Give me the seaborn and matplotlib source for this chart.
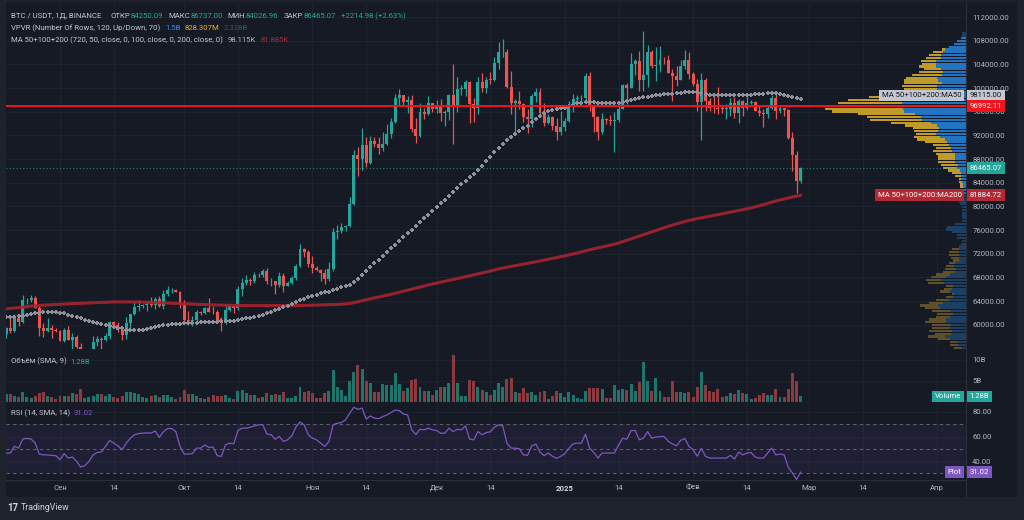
import numpy as np
import pandas as pd
import matplotlib
matplotlib.use("Agg")
import matplotlib.pyplot as plt
import seaborn as sns
from matplotlib.patches import Rectangle
from matplotlib.lines import Line2D

# ---------------- data (daily BTC/USDT, 19 Aug 2024 .. 27 Feb 2025) ----------------
first_open = 58430.0

close_aug = [59450, 59010, 61160, 60380, 64100, 64180, 64570, 62880, 59500, 59020, 59380, 59120, 58970]
high_aug = [59620, 61400, 61800, 61400, 64950, 64500, 65000, 64850, 63200, 60240, 61180, 59940, 59440]
low_aug = [57800, 58580, 58780, 59750, 60350, 63570, 63800, 62800, 58030, 57860, 58790, 57700, 58740]

close_sep = [57300, 59130, 57480, 57970, 56160, 53950, 54150, 54840, 57050, 57640,
             57340, 58130, 60500, 60000, 59130, 58210, 60310, 61760, 62950, 63190,
             63350, 63580, 63330, 64300, 63140, 65180, 65790, 65880, 65600, 63330]
high_sep = [59070, 59400, 59810, 58520, 58300, 56990, 54850, 55300, 58100, 58040,
            57990, 58600, 60650, 60660, 60400, 59200, 61380, 61790, 63850, 64130,
            63560, 64000, 64750, 64690, 64800, 65840, 66500, 66260, 66080, 65620]
low_sep = [57200, 57120, 57420, 55600, 55650, 52550, 53750, 53650, 54600, 56400,
           55550, 57320, 57650, 59500, 58700, 57500, 57630, 59170, 61560, 62350,
           62760, 62400, 62950, 62700, 62950, 62670, 64800, 65420, 65500, 62850]

close_oct = [60800, 60650, 60750, 62080, 62060, 62820, 62220, 62130, 60580, 60280,
             62450, 63200, 62850, 66050, 67040, 67610, 67400, 68420, 68360, 69000,
             67370, 67380, 66650, 68160, 66600, 67010, 67930, 69900, 72720, 72340, 70290]
high_oct = [64130, 62390, 61470, 62480, 62370, 62970, 64480, 63200, 62540, 61320,
            63420, 63480, 63280, 66500, 67950, 68420, 67940, 68980, 68690, 69400,
            69500, 67840, 67470, 68850, 68770, 67450, 68300, 70270, 73620, 72960, 72700]
low_oct = [60160, 60000, 59830, 60460, 61640, 61800, 62130, 61820, 60300, 58900,
           60080, 62400, 62050, 62440, 64800, 66750, 66650, 67130, 68000, 68100,
           66830, 66570, 65260, 66450, 65520, 66500, 66800, 67620, 69730, 71440, 69690]

close_nov = [69500, 69300, 68740, 67800, 69350, 75600, 75900, 76500, 76670, 80370,
             88700, 87950, 90400, 87250, 91060, 90580, 89850, 90460, 92310, 94290,
             98350, 98890, 97670, 97900, 93000, 91950, 95900, 95640, 97460, 96400]
high_nov = [71630, 70000, 69390, 69480, 70580, 76400, 76850, 77200, 76920, 81500,
            89530, 89950, 93270, 91790, 91850, 91800, 91760, 92590, 94000, 94900,
            99000, 99800, 98900, 98700, 98870, 94980, 97400, 96650, 98690, 97500]
low_nov = [68820, 69020, 67460, 66840, 67450, 69070, 74420, 75570, 75770, 76490,
           80220, 85070, 86120, 86670, 87120, 90090, 88800, 89380, 90380, 91500,
           94100, 97200, 97150, 95750, 92600, 90790, 91800, 94700, 95400, 95900]

close_dec = [97180, 95840, 96000, 98760, 97000, 99850, 99900, 101100, 97300, 96600,
             101100, 100000, 101400, 101370, 104300, 106050, 106130, 100200, 97460, 97750,
             97220, 95100, 94700, 98650, 99400, 95800, 94160, 95160, 93530, 92640, 93430]
high_dec = [97900, 98150, 96300, 99000, 104000, 101900, 100550, 101400, 101250, 98250,
            101900, 102550, 101900, 102650, 105250, 107780, 108350, 106520, 102800, 98100,
            99540, 97400, 96420, 99000, 99950, 99960, 97500, 95530, 95200, 94900, 96150]
low_dec = [95700, 94500, 93580, 94660, 90500, 95900, 98900, 98700, 94150, 94250,
           95650, 99300, 99200, 100600, 101200, 103300, 105320, 100000, 95650, 92150,
           96400, 94200, 92400, 93400, 97600, 95150, 93500, 94000, 92880, 91300, 92000]

close_jan = [94400, 96880, 98100, 98240, 98300, 102100, 96950, 95050, 92500, 94700,
             94550, 94500, 94520, 96530, 100500, 99990, 104080, 104550, 101330, 102260,
             106150, 103650, 103960, 104820, 104710, 102620, 102080, 101330, 103730, 104730, 102430]
high_jan = [94950, 97800, 98980, 98800, 98800, 102500, 102700, 97250, 95350, 95850,
            94980, 95400, 95900, 97350, 100700, 100850, 105870, 104990, 106300, 109590,
            107240, 106400, 106850, 107100, 105290, 105500, 103200, 103800, 104800, 106450, 106100]
low_jan = [92800, 94200, 96030, 97300, 97300, 97920, 96100, 92500, 91200, 92200,
           93850, 93700, 89250, 94300, 96500, 97350, 99950, 102280, 99500, 99550,
           100100, 103350, 101250, 102750, 104100, 102500, 97800, 100300, 101300, 103300, 101550]

close_feb = [100640, 97690, 101400, 97870, 96620, 96550, 96530, 96480, 96500, 97440,
             95780, 97870, 96620, 97510, 97570, 96120, 95770, 95540, 96630, 98330,
             96130, 96580, 96270, 91550, 88640, 84250.09, 86465.07]
high_feb = [102780, 101450, 102500, 101750, 98300, 99200, 100150, 96880, 97350, 98350,
            98500, 98120, 98000, 98800, 97970, 97730, 97050, 96400, 96900, 98770,
            99500, 96950, 96650, 96500, 92500, 89300, 86737.00]
low_feb = [100300, 96150, 91230, 96150, 96150, 95700, 95650, 95700, 94750, 95250,
           94880, 94100, 95300, 96300, 97250, 96050, 95200, 93400, 95000, 96400,
           94850, 95800, 95250, 91350, 86050, 82250, 84026.96]

# volume, billions
volume_b = [
    1.8, 1.8, 1.3, 1.2, 2.4, 1.0, 0.8, 1.4, 2.1, 2.2,
    1.4, 1.0, 0.6, 1.3, 1.4, 1.4, 2.1, 1.8, 2.9, 0.9,
    1.0, 1.4, 1.8, 1.8, 1.4, 1.8, 1.0, 0.8, 1.3, 2.2,
    2.2, 2.1, 1.9, 1.1, 0.8, 1.4, 1.5, 1.1, 1.6, 1.6,
    1.2, 0.7, 1.2, 2.8, 1.8, 1.8, 1.4, 0.8, 0.6, 1.0,
    1.6, 1.4, 1.4, 1.6, 0.8, 0.6, 2.5, 2.8, 2.1, 1.6,
    1.5, 0.8, 1.0, 2.0, 1.7, 1.8, 1.5, 2.2, 0.9, 0.8,
    1.4, 3.4, 2.4, 2.6, 2.1, 0.8, 0.9, 2.1, 2.5, 7.6,
    3.4, 2.7, 1.3, 4.8, 7.0, 8.6, 7.8, 5.0, 4.4, 2.2,
    2.2, 4.2, 4.0, 4.0, 6.7, 4.2, 2.6, 3.2, 5.2, 5.4,
    3.6, 2.6, 2.6, 1.7, 2.8, 3.6, 3.4, 4.4, 11.0, 4.4,
    1.4, 1.4, 5.2, 4.9, 3.6, 2.8, 2.2, 1.7, 2.8, 4.4,
    3.4, 5.4, 5.6, 2.2, 2.0, 3.2, 2.1, 2.4, 1.6, 2.2,
    2.6, 0.6, 1.4, 2.6, 2.0, 1.2, 2.2, 1.6, 0.8, 0.6,
    2.5, 3.2, 3.2, 3.2, 3.0, 0.8, 0.9, 4.0, 2.8, 3.0,
    2.8, 4.2, 2.6, 4.6, 9.4, 4.8, 2.5, 5.6, 2.5, 1.0,
    1.0, 5.0, 2.4, 2.2, 2.0, 2.2, 1.2, 3.4, 7.1, 4.0,
    2.6, 2.4, 3.0, 1.0, 1.4, 2.0, 1.8, 2.8, 2.0, 1.8,
    0.6, 0.8, 1.6, 2.1, 1.7, 1.7, 3.0, 1.2, 1.0, 3.0,
    6.9, 5.0, 1.28,
]

rsi = [
    46.5, 46.5, 52.0, 50.5, 58.0, 58.4, 58.0, 54.6, 45.7, 45.0,
    45.0, 44.6, 44.3, 41.0, 46.0, 42.4, 43.2, 39.7, 35.1, 36.2,
    39.7, 45.0, 47.0, 47.3, 52.0, 56.8, 54.6, 52.4, 49.2, 54.6,
    58.6, 61.4, 62.4, 62.7, 63.0, 62.7, 64.6, 59.2, 64.0, 66.5,
    66.5, 64.0, 51.9, 45.7, 45.7, 46.0, 50.5, 50.5, 53.2, 51.0,
    51.4, 44.3, 43.8, 53.2, 54.6, 54.0, 64.9, 66.8, 66.8, 67.6,
    68.6, 69.5, 69.7, 61.9, 61.6, 57.8, 60.0, 56.0, 57.3, 60.5,
    67.6, 71.9, 69.5, 61.4, 58.6, 57.3, 54.6, 51.9, 56.0, 69.7,
    70.8, 71.4, 73.5, 78.9, 83.8, 82.2, 83.2, 74.3, 76.8, 74.9,
    74.6, 76.2, 77.6, 79.5, 81.6, 81.1, 78.4, 77.6, 65.4, 61.6,
    65.9, 65.4, 66.8, 65.4, 64.9, 62.7, 62.7, 66.8, 64.0, 65.9,
    65.4, 68.6, 57.8, 57.3, 64.0, 61.4, 63.2, 63.8, 67.6, 69.5,
    68.6, 54.6, 50.5, 50.5, 50.0, 45.0, 44.6, 52.4, 53.8, 47.3,
    44.3, 46.5, 43.8, 42.2, 43.8, 46.0, 50.5, 54.0, 54.6, 54.6,
    61.9, 50.5, 47.0, 42.4, 46.5, 46.5, 46.5, 46.5, 53.2, 58.6,
    57.8, 64.9, 64.9, 57.3, 58.6, 64.0, 58.6, 59.5, 60.0, 60.0,
    56.0, 54.0, 52.4, 56.8, 58.4, 51.9, 49.2, 43.8, 50.3, 43.8,
    42.4, 42.4, 42.4, 42.4, 42.4, 44.6, 41.6, 47.3, 45.0, 46.5,
    47.0, 43.2, 42.4, 42.4, 46.5, 50.5, 45.0, 45.7, 45.0, 34.9,
    30.3, 24.9, 31.02,
]

# moving averages, thousands
ma50_k = [
    61.33, 61.33, 61.35, 61.4, 61.5, 61.6, 61.75, 61.9, 62.0, 62.1,
    62.12, 62.12, 62.1, 62.05, 61.9, 61.7, 61.5, 61.3, 61.05, 60.8,
    60.6, 60.45, 60.3, 60.15, 59.97, 59.85, 59.65, 59.5, 59.4, 59.1,
    59.05, 59.05, 59.06, 59.15, 59.28, 59.45, 59.6, 59.74, 59.9, 60.0,
    60.1, 60.15, 60.2, 60.22, 60.25, 60.3, 60.34, 60.38, 60.42, 60.46,
    60.5, 60.52, 60.56, 60.6, 60.64, 60.7, 60.75, 60.9, 61.05, 61.2,
    61.35, 61.45, 61.7, 61.95, 62.2, 62.45, 62.7, 62.95, 63.2, 63.5,
    63.8, 64.1, 64.4, 64.65, 64.9, 65.1, 65.3, 65.45, 65.6, 65.85,
    66.1, 66.35, 66.55, 66.75, 67.2, 67.8, 68.45, 69.1, 69.7, 70.35,
    71.0, 71.6, 72.25, 72.9, 73.5, 74.15, 74.8, 75.45, 76.05, 76.7,
    77.35, 78.0, 78.6, 79.2, 79.85, 80.5, 81.15, 81.8, 82.4, 83.1,
    83.7, 84.25, 84.9, 85.5, 86.15, 86.8, 87.6, 88.4, 89.2, 89.9,
    90.6, 91.2, 91.75, 92.3, 92.8, 93.2, 93.65, 94.2, 94.8, 95.3,
    95.75, 96.1, 96.3, 96.45, 96.55, 96.7, 96.95, 97.2, 97.4, 97.45,
    97.6, 97.7, 97.65, 97.55, 97.5, 97.45, 97.42, 97.42, 97.45, 97.6,
    97.8, 98.0, 98.2, 98.35, 98.5, 98.56, 98.65, 98.75, 98.85, 98.95,
    99.0, 99.05, 99.1, 99.17, 99.25, 99.3, 99.34, 99.25, 99.1, 98.95,
    98.85, 98.8, 98.78, 98.78, 98.78, 98.78, 98.8, 98.8, 98.82, 98.85,
    98.9, 98.95, 99.0, 99.05, 99.1, 99.12, 99.1, 99.0, 98.85, 98.65,
    98.45, 98.25, 98.115,
]
ma200_k = [
    62.68, 62.75, 62.82, 62.9, 62.97, 63.05, 63.15, 63.2, 63.25, 63.3,
    63.35, 63.38, 63.42, 63.46, 63.5, 63.53, 63.56, 63.59, 63.62, 63.65,
    63.68, 63.71, 63.74, 63.77, 63.8, 63.83, 63.85, 63.86, 63.86, 63.86,
    63.86, 63.85, 63.84, 63.82, 63.8, 63.78, 63.75, 63.72, 63.69, 63.66,
    63.63, 63.6, 63.58, 63.55, 63.52, 63.49, 63.46, 63.43, 63.41, 63.38,
    63.35, 63.33, 63.31, 63.29, 63.27, 63.26, 63.25, 63.24, 63.24, 63.23,
    63.23, 63.23, 63.22, 63.22, 63.22, 63.22, 63.22, 63.22, 63.22, 63.23,
    63.24, 63.25, 63.26, 63.28, 63.3, 63.32, 63.34, 63.35, 63.37, 63.4,
    63.43, 63.47, 63.52, 63.6, 63.72, 63.88, 64.06, 64.22, 64.38, 64.53,
    64.68, 64.83, 64.98, 65.14, 65.3, 65.48, 65.66, 65.83, 66.0, 66.18,
    66.36, 66.54, 66.72, 66.88, 67.04, 67.19, 67.34, 67.49, 67.64, 67.8,
    67.96, 68.12, 68.28, 68.43, 68.58, 68.74, 68.9, 69.08, 69.26, 69.43,
    69.58, 69.71, 69.84, 69.97, 70.1, 70.23, 70.36, 70.5, 70.64, 70.78,
    70.92, 71.06, 71.2, 71.34, 71.5, 71.65, 71.8, 71.96, 72.12, 72.3,
    72.48, 72.66, 72.82, 72.98, 73.14, 73.3, 73.45, 73.62, 73.82, 74.04,
    74.27, 74.5, 74.74, 74.98, 75.22, 75.45, 75.68, 75.92, 76.16, 76.4,
    76.62, 76.84, 77.04, 77.24, 77.44, 77.62, 77.78, 77.93, 78.07, 78.2,
    78.33, 78.46, 78.6, 78.74, 78.88, 79.02, 79.16, 79.3, 79.44, 79.58,
    79.74, 79.92, 80.1, 80.3, 80.5, 80.7, 80.9, 81.08, 81.25, 81.42,
    81.58, 81.73, 81.885,
]

tick_pos = [13, 26, 43, 56, 74, 87, 104, 117, 135, 148, 166, 179, 194, 207, 225]
tick_lab = ["Сен", "14", "Окт", "14", "Ноя", "14", "Дек", "14", "2025", "14",
            "Фев", "14", "Мар", "14", "Апр"]

price_line = 96992.11

closes = close_aug + close_sep + close_oct + close_nov + close_dec + close_jan + close_feb
highs = high_aug + high_sep + high_oct + high_nov + high_dec + high_jan + high_feb
lows = low_aug + low_sep + low_oct + low_nov + low_dec + low_jan + low_feb
opens = [first_open] + closes[:-1]   # 24/7 market: open = previous close

df = pd.DataFrame({
    "open": opens, "high": highs, "low": lows, "close": closes,
    "vol": volume_b, "rsi": rsi,
    "ma50": np.array(ma50_k) * 1000, "ma200": np.array(ma200_k) * 1000,
})
df["idx"] = np.arange(len(df))
df["up"] = df["close"] >= df["open"]

# ---------------- style ----------------
BG = "#161a25"
FRAME = "#1e222d"
GRID = "#1f2331"
SEP = "#2a2e39"
TXT = "#b2b5be"
LBL = "#c3c6ce"
UP = "#26a69a"
DN = "#ef5350"
PURPLE = "#7e57c2"

sns.set_theme(style="dark", rc={"axes.facecolor": BG, "figure.facecolor": FRAME})
plt.rcParams["font.family"] = ["Roboto", "DejaVu Sans"]
FS = 5.6

W, H = 1024, 520
def fy(px):
    return 1 - px / H

fig = plt.figure(figsize=(W / 100, H / 100), dpi=100)
fig.patches.append(Rectangle((6 / W, fy(497)), 1011 / W, (497 - 2) / H,
                             transform=fig.transFigure, fc=BG, ec="none", zorder=-10))

L, AW = 6 / W, 960 / W
ax_p = fig.add_axes([L, fy(349), AW, fy(3) - fy(349)])
ax_v = fig.add_axes([L, fy(401.7), AW, fy(349) - fy(401.7)])
ax_r = fig.add_axes([L, fy(480), AW, fy(401.7) - fy(480)])

XMIN, XMAX = -0.05, 231.95
for ax in (ax_p, ax_v, ax_r):
    ax.set_facecolor(BG)
    ax.set_xlim(XMIN, XMAX)
    ax.set_xticks(tick_pos)
    ax.grid(True, color=GRID, lw=0.7)
    ax.set_axisbelow(True)
    for s in ax.spines.values():
        s.set_color(SEP)
        s.set_linewidth(0.8)
    ax.spines["left"].set_visible(False)
    ax.spines["top"].set_visible(False)
    ax.yaxis.tick_right()
    ax.tick_params(axis="both", length=0, colors=TXT, labelsize=FS, pad=4.5)
    ax.tick_params(axis="x", labelbottom=False)

# ---------------- price pane ----------------
ax_p.set_ylim(55895, 114370)
yt = list(range(60000, 112001, 4000))
ax_p.set_yticks(yt)
ax_p.set_yticklabels([f"{v:.2f}" for v in yt])

# volume profile (visible range, 120 rows, 70% value area)
edges = np.linspace(df["low"].min(), df["high"].max(), 121)
rowh = edges[1] - edges[0]
vp_up = np.zeros(120)
vp_dn = np.zeros(120)
for _, r in df.iterrows():
    ov = np.clip(np.minimum(r["high"], edges[1:]) - np.maximum(r["low"], edges[:-1]), 0, None)
    share = ov / ov.sum() * r["vol"]
    if r["up"]:
        vp_up += share
    else:
        vp_dn += share
vp_tot = vp_up + vp_dn
poc = int(np.argmax(vp_tot))
lo_i = hi_i = poc
acc = vp_tot[poc]
while acc < 0.7 * vp_tot.sum():
    below = vp_tot[lo_i - 1] if lo_i > 0 else -1
    above = vp_tot[hi_i + 1] if hi_i < 119 else -1
    if above >= below:
        hi_i += 1
        acc += above
    else:
        lo_i -= 1
        acc += below
in_va = np.zeros(120, bool)
in_va[lo_i:hi_i + 1] = True
scale = 34.0 / vp_tot.max()
centers = (edges[:-1] + edges[1:]) / 2
up_len = vp_up * scale
dn_len = vp_dn * scale
ax_p.barh(centers, -up_len, left=XMAX, height=rowh * 0.78,
          color=np.where(in_va, "#2374c0", "#1b4063"), lw=0, zorder=1)
ax_p.barh(centers, -dn_len, left=XMAX - up_len, height=rowh * 0.78,
          color=np.where(in_va, "#c19a2c", "#5f5029"), lw=0, zorder=1)

# candles
cols = np.where(df["up"], UP, DN)
body_lo = df[["open", "close"]].min(axis=1)
body_h = np.maximum((df["close"] - df["open"]).abs(), 80)
ax_p.vlines(df["idx"], df["low"], df["high"], colors=cols, lw=0.9, zorder=3)
ax_p.bar(df["idx"], body_h, bottom=body_lo, width=0.72, color=cols, lw=0, zorder=3)

sns.lineplot(data=df, x="idx", y="ma200", ax=ax_p, color="#a5232f", lw=2.2,
             alpha=0.9, zorder=4)
sns.scatterplot(data=df, x="idx", y="ma50", ax=ax_p, marker="P", s=11,
                color="#8e919a", linewidth=0, zorder=4)

ax_p.axhline(price_line, color="#f0141e", lw=1.4, zorder=5)
ax_p.axhline(closes[-1], color=UP, lw=0.8, ls=(0, (1, 2)), alpha=0.7, zorder=2)
ax_p.set_xlabel("")
ax_p.set_ylabel("")

# ---------------- volume pane ----------------
ax_v.set_ylim(0, 12.5)
ax_v.set_yticks([5, 10])
ax_v.set_yticklabels(["5B", "10B"])
vcols = np.where(df["up"], "#1f756b", "#8b3a3f")
ax_v.bar(df["idx"], df["vol"], width=0.72, color=vcols, lw=0, zorder=2)

# ---------------- RSI pane ----------------
ax_r.set_ylim(24.5, 88.4)
ax_r.set_yticks([40, 60, 80])
ax_r.set_yticklabels(["40.00", "60.00", "80.00"])
ax_r.axhspan(30, 70, color=PURPLE, alpha=0.09, lw=0, zorder=1)
for lv in (30, 50, 70):
    ax_r.axhline(lv, color="#5d606b", lw=0.8, ls=(0, (3, 3)), zorder=2)
sns.lineplot(data=df, x="idx", y="rsi", ax=ax_r, color=PURPLE, lw=0.9, zorder=3)
ax_r.set_xlabel("")
ax_r.set_ylabel("")
ax_r.tick_params(axis="x", labelbottom=True, pad=3.5)
ax_r.set_xticklabels(tick_lab)
for t in ax_r.get_xticklabels():
    if t.get_text() == "2025":
        t.set_fontweight("bold")
        t.set_color("#d1d4dc")

# ---------------- right-axis tags ----------------
def value_box(ax, y, text, fc, tc="white"):
    ax.text(1 + 3.8 / 960, y, text, transform=ax.get_yaxis_transform(), ha="left",
            va="center", fontsize=FS, color=tc, clip_on=False, zorder=20,
            bbox=dict(boxstyle="square,pad=0.35", fc=fc, ec="none"))

def name_box(ax, y, text, fc, tc="white"):
    ax.text(1 - 4.5 / 960, y, text, transform=ax.get_yaxis_transform(), ha="right",
            va="center", fontsize=FS, color=tc, clip_on=False, zorder=20,
            bbox=dict(boxstyle="square,pad=0.35", fc=fc, ec="none"))

ma50_last = df["ma50"].iloc[-1]
ma200_last = 81884.72
name_box(ax_p, ma50_last + 650, "MA 50+100+200:MA50", "#c4c7ce", "#131722")
value_box(ax_p, ma50_last + 650, f"{ma50_last:.2f}", "#c4c7ce", "#131722")
value_box(ax_p, price_line, f"{price_line:.2f}", "#f0141e")
value_box(ax_p, closes[-1], f"{closes[-1]:.2f}", UP)
name_box(ax_p, ma200_last, "MA 50+100+200:MA200", "#b22833")
value_box(ax_p, ma200_last, f"{ma200_last:.2f}", "#b22833")
name_box(ax_v, volume_b[-1], "Volume", UP)
value_box(ax_v, volume_b[-1], f"{volume_b[-1]:.2f}B", UP)
name_box(ax_r, rsi[-1], "Plot", PURPLE)
value_box(ax_r, rsi[-1], f"{rsi[-1]:.2f}", PURPLE)

# ---------------- legend-like header texts ----------------
renderer = fig.canvas.get_renderer()

def text_run(x_px, y_px, parts):
    x = x_px
    for s, c, gap in parts:
        t = fig.text(x / W, fy(y_px), s, color=c, fontsize=FS, ha="left", va="center", zorder=30)
        x += t.get_window_extent(renderer=renderer).width + gap

text_run(11, 16, [("BTC / USDT, 1Д, BINANCE", LBL, 9), ("ОТКР", LBL, 0.5), ("84250.09", UP, 5),
                  ("МАКС", LBL, 0.5), ("86737.00", UP, 5), ("МИН", LBL, 0.5), ("84026.96", UP, 5),
                  ("ЗАКР", LBL, 0.5), ("86465.07", UP, 5), ("+2214.98 (+2.63%)", UP, 0)])
text_run(11, 28.5, [("VPVR (Number Of Rows, 120, Up/Down, 70)", LBL, 5), ("1.5B", "#2f8ee5", 4),
                    ("828.307M", "#e9ac2b", 4), ("2.328B", "#4c4f59", 0)])
text_run(11, 40, [("MA 50+100+200 (720, 50, close, 0, 100, close, 0, 200, close, 0)", LBL, 5),
                  ("98.115K", TXT, 4), ("81.885K", "#b22833", 0)])
text_run(11, 361.5, [("Объём (SMA, 9)", LBL, 4), ("1.28B", UP, 0)])
text_run(11, 413, [("RSI (14, SMA, 14)", LBL, 4), ("31.02", PURPLE, 0)])

# separators and footer
fig.lines.append(Line2D([966 / W, 966 / W], [fy(497), fy(480)], transform=fig.transFigure,
                        color=SEP, lw=0.8))
fig.text(7 / W, fy(508), "17", fontsize=7, fontweight="bold", color="#d1d4dc",
         ha="left", va="center")
fig.text(21 / W, fy(508), "TradingView", fontsize=6.3, color="#d1d4dc", ha="left", va="center")

fig.savefig("out.png", dpi=100, facecolor=FRAME)
